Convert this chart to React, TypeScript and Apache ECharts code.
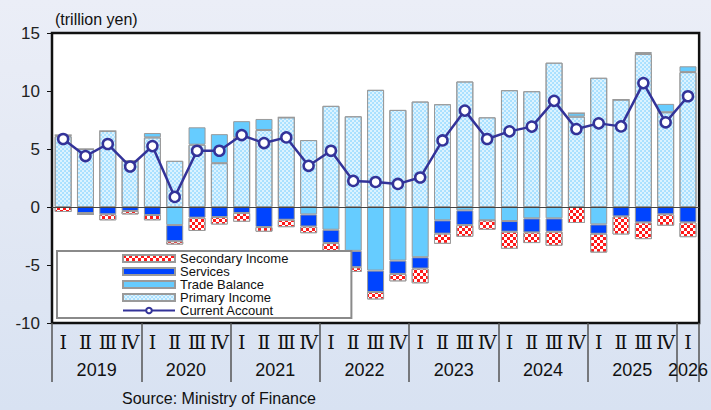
import React, { useEffect, useRef } from "react";
import * as echarts from "echarts";

const periods = [
  "2019 Q1", "2019 Q2", "2019 Q3", "2019 Q4",
  "2020 Q1", "2020 Q2", "2020 Q3", "2020 Q4",
  "2021 Q1", "2021 Q2", "2021 Q3", "2021 Q4",
  "2022 Q1", "2022 Q2", "2022 Q3", "2022 Q4",
  "2023 Q1", "2023 Q2", "2023 Q3", "2023 Q4",
  "2024 Q1", "2024 Q2", "2024 Q3", "2024 Q4",
  "2025 Q1", "2025 Q2", "2025 Q3", "2025 Q4",
  "2026 Q1",
];

const quarterTicks = [
  "Ⅰ", "Ⅱ", "Ⅲ", "Ⅳ", "Ⅰ", "Ⅱ", "Ⅲ", "Ⅳ", "Ⅰ", "Ⅱ", "Ⅲ", "Ⅳ",
  "Ⅰ", "Ⅱ", "Ⅲ", "Ⅳ", "Ⅰ", "Ⅱ", "Ⅲ", "Ⅳ", "Ⅰ", "Ⅱ", "Ⅲ", "Ⅳ",
  "Ⅰ", "Ⅱ", "Ⅲ", "Ⅳ", "Ⅰ",
];

const years = ["2019", "2020", "2021", "2022", "2023", "2024", "2025", "2026"];

const primaryIncome = [
  6.1, 5.0, 6.55, 3.98, 6.0, 3.98, 5.37, 3.78, 6.0, 6.64, 7.73, 5.77,
  8.72, 7.82, 10.1, 8.37, 9.09, 8.86, 10.82, 7.73, 10.07, 9.98, 12.44, 7.79,
  11.14, 9.26, 13.19, 8.17, 11.63,
];

const tradeBalance = [
  0.1, 0, 0, 0, 0.38, -1.56, 1.5, 2.5, 1.4, 0.95, 0, -0.64,
  -1.96, -3.78, -5.48, -4.62, -4.33, -1.15, -0.29, -1.15, -1.21, -0.98, -0.98, 0.3,
  -1.5, 0, 0.17, 0.72, 0.5,
];

const services = [
  0, -0.52, -0.63, -0.35, -0.69, -1.39, -0.92, -0.87, -0.52, -1.73, -1.1, -1.04,
  -1.15, -1.41, -1.85, -1.15, -0.98, -1.15, -1.27, 0, -0.92, -1.21, -1.15, 0,
  -0.81, -0.81, -1.33, -0.63, -1.33,
];

const secondaryIncome = [
  -0.43, -0.17, -0.52, -0.29, -0.46, -0.29, -1.15, -0.64, -0.75, -0.4, -0.64, -0.58,
  -0.69, -0.41, -0.64, -0.64, -1.27, -0.87, -1.01, -0.81, -1.47, -0.92, -1.21, -1.38,
  -1.62, -1.56, -1.44, -0.98, -1.27,
];

const currentAccount = [
  5.86, 4.39, 5.43, 3.49, 5.25, 0.87, 4.85, 4.85, 6.2, 5.51, 6.0, 3.55,
  4.85, 2.25, 2.16, 1.99, 2.54, 5.74, 8.31, 5.86, 6.52, 6.93, 9.15, 6.72,
  7.21, 6.95, 10.68, 7.3, 9.55,
];

const SANS = "Liberation Sans, Arial, sans-serif";

export default function App() {
  const ref = useRef<HTMLDivElement>(null);

  useEffect(() => {
    document.body.style.margin = "0";
    if (!ref.current) return;
    const chart = echarts.init(ref.current, null, { renderer: "svg" });
    const n = periods.length;

    const barBorder = { borderColor: "#9a9a9a", borderWidth: 1 };

    chart.setOption({
      animation: false,
      backgroundColor: "transparent",
      textStyle: { fontFamily: SANS },
      title: {
        text: "(trillion yen)",
        left: 50,
        top: 6,
        textStyle: { fontSize: 16, fontWeight: "normal", color: "#111", fontFamily: SANS },
      },
      graphic: [
        {
          type: "text",
          left: 122,
          top: 390,
          style: { text: "Source: Ministry of Finance", fontSize: 16, fill: "#111", fontFamily: SANS },
        },
      ],
      grid: {
        left: 52,
        right: 9,
        top: 33,
        bottom: 87,
        show: true,
        backgroundColor: "#ffffff",
        borderColor: "#111",
        borderWidth: 2.5,
        containLabel: false,
      },
      legend: {
        orient: "vertical",
        left: 57,
        top: 251,
        itemWidth: 52,
        itemHeight: 7,
        itemGap: 0,
        padding: [1, 63, 1, 65],
        backgroundColor: "#ffffff",
        borderColor: "#8a8a8a",
        borderWidth: 2,
        textStyle: { fontSize: 13, lineHeight: 13, color: "#111", fontFamily: SANS },
        data: [
          { name: "Secondary Income", icon: "rect" },
          { name: "Services", icon: "rect" },
          { name: "Trade Balance", icon: "rect" },
          { name: "Primary Income", icon: "rect" },
          { name: "Current Account" },
        ],
      },
      xAxis: [
        {
          type: "category",
          data: periods,
          gridIndex: 0,
          position: "bottom",
          axisLine: { show: false, onZero: false },
          axisTick: { show: false },
          axisLabel: {
            interval: 0,
            margin: 9,
            fontSize: 19,
            color: "#111",
            fontFamily: "DejaVu Serif, serif",
            formatter: (_v: string, idx: number) => quarterTicks[idx],
          },
          splitLine: { show: false },
        },
        {
          type: "value",
          min: 0,
          max: n,
          interval: 0.5,
          position: "bottom",
          axisLine: { show: false, onZero: false },
          axisTick: { show: false },
          splitLine: { show: false },
          axisLabel: {
            margin: 38,
            fontSize: 18,
            color: "#111",
            fontFamily: SANS,
            showMinLabel: false,
            showMaxLabel: false,
            formatter: (v: number) => {
              if (Math.abs(v - (n - 0.5)) < 1e-6) return years[years.length - 1];
              if (v < n - 1 && Math.abs((v - 2) % 4) < 1e-6) return years[Math.round((v - 2) / 4)];
              return "";
            },
          },
        },
        {
          type: "value",
          min: 0,
          max: n,
          interval: 4,
          position: "bottom",
          axisLine: { show: false, onZero: false },
          axisLabel: { show: false },
          splitLine: { show: false },
          axisTick: { show: true, length: 59, lineStyle: { color: "#555", width: 1.5 } },
        },
      ],
      yAxis: {
        type: "value",
        min: -10,
        max: 15,
        interval: 5,
        axisLine: { show: true, lineStyle: { color: "#111", width: 2 } },
        axisTick: { show: true, length: 5, lineStyle: { color: "#111" } },
        axisLabel: { fontSize: 17, color: "#222", margin: 12, fontFamily: SANS },
        splitLine: { show: false },
      },
      series: [
        {
          name: "Primary Income",
          type: "bar",
          stack: "ca",
          barWidth: 17,
          data: primaryIncome,
          itemStyle: {
            color: "#dcf3ff",
            ...barBorder,
            decal: {
              symbol: "circle",
              symbolSize: 0.7,
              color: "#5ec4ff",
              dashArrayX: [[2, 2], [0, 2, 2, 0]],
              dashArrayY: [2, 0],
            },
          },
          markLine: {
            silent: true,
            symbol: "none",
            label: { show: false },
            lineStyle: { color: "#444", width: 1, type: "solid" },
            data: [{ yAxis: 0 }],
          },
        },
        {
          name: "Trade Balance",
          type: "bar",
          stack: "ca",
          barWidth: 17,
          data: tradeBalance,
          itemStyle: { color: "#66ccff", ...barBorder },
        },
        {
          name: "Services",
          type: "bar",
          stack: "ca",
          barWidth: 17,
          data: services,
          itemStyle: { color: "#0044ff", ...barBorder },
        },
        {
          name: "Secondary Income",
          type: "bar",
          stack: "ca",
          barWidth: 17,
          data: secondaryIncome,
          itemStyle: {
            color: "#ff1a1a",
            ...barBorder,
            decal: {
              symbol: "rect",
              symbolSize: 1,
              color: "#ffffff",
              dashArrayX: [[3, 3], [0, 3, 3, 0]],
              dashArrayY: [3, 0],
            },
          },
        },
        {
          name: "Current Account",
          type: "line",
          data: currentAccount,
          symbol: "circle",
          symbolSize: 10,
          z: 6,
          lineStyle: { color: "#333399", width: 2.5 },
          itemStyle: { color: "#ffffff", borderColor: "#333399", borderWidth: 2.5 },
        },
      ],
    });

    return () => chart.dispose();
  }, []);

  return (
    <div
      style={{
        width: 711,
        height: 410,
        background: "linear-gradient(180deg, #ebeef7 0%, #e2e8f4 50%, #d8e2f2 100%)",
      }}
    >
      <div ref={ref} style={{ width: 711, height: 410 }} />
    </div>
  );
}
